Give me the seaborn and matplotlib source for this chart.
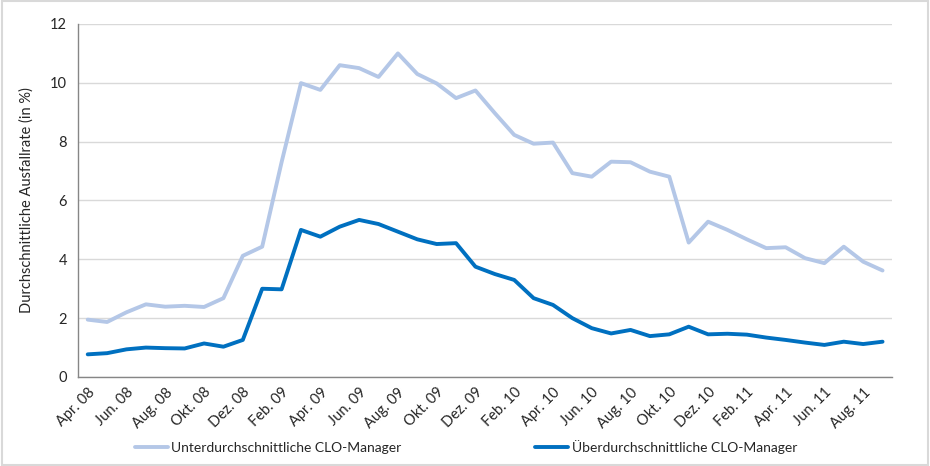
import pandas as pd
import seaborn as sns
import matplotlib.pyplot as plt
from matplotlib.ticker import FixedLocator, NullFormatter

# monthly values, Apr. 08 - Sep. 11
months = ['Apr. 08', 'Mai. 08', 'Jun. 08', 'Jul. 08', 'Aug. 08', 'Sep. 08', 'Okt. 08', 'Nov. 08',
          'Dez. 08', 'Jan. 09', 'Feb. 09', 'Mrz. 09', 'Apr. 09', 'Mai. 09', 'Jun. 09', 'Jul. 09',
          'Aug. 09', 'Sep. 09', 'Okt. 09', 'Nov. 09', 'Dez. 09', 'Jan. 10', 'Feb. 10', 'Mrz. 10',
          'Apr. 10', 'Mai. 10', 'Jun. 10', 'Jul. 10', 'Aug. 10', 'Sep. 10', 'Okt. 10', 'Nov. 10',
          'Dez. 10', 'Jan. 11', 'Feb. 11', 'Mrz. 11', 'Apr. 11', 'Mai. 11', 'Jun. 11', 'Jul. 11',
          'Aug. 11', 'Sep. 11']

unter = [1.95, 1.87, 2.2, 2.47, 2.39, 2.42, 2.38, 2.68, 4.12, 4.43, 7.3, 9.99,
         9.76, 10.6, 10.5, 10.2, 11.0, 10.3, 9.98, 9.48, 9.74, 8.97, 8.23, 7.93,
         7.97, 6.93, 6.81, 7.32, 7.3, 6.98, 6.81, 4.57, 5.28, 5.0, 4.68, 4.38,
         4.41, 4.04, 3.87, 4.43, 3.92, 3.62]

ueber = [0.77, 0.81, 0.94, 1.0, 0.98, 0.97, 1.14, 1.03, 1.26, 3.0, 2.98, 5.0,
         4.77, 5.11, 5.34, 5.2, 4.94, 4.68, 4.52, 4.55, 3.75, 3.5, 3.3, 2.68,
         2.45, 2.0, 1.66, 1.48, 1.6, 1.39, 1.45, 1.71, 1.45, 1.47, 1.44, 1.34,
         1.26, 1.17, 1.09, 1.2, 1.12, 1.2]

names = ['Unterdurchschnittliche CLO-Manager', 'Überdurchschnittliche CLO-Manager']
colors = ['#B4C7E7', '#0070C0']

df = pd.DataFrame({'idx': list(range(len(months))) * 2,
                   'wert': unter + ueber,
                   'gruppe': [names[0]] * len(months) + [names[1]] * len(months)})

sns.set_style('white')
plt.rcParams['font.family'] = ['Lato', 'DejaVu Sans']

fig = plt.figure(figsize=(9.3, 4.66), dpi=100)
ax = fig.add_axes([0.0839, 0.191, 0.8755, 0.7575])

sns.lineplot(data=df, x='idx', y='wert', hue='gruppe', palette=colors,
             linewidth=2.8, ax=ax, legend=True)
for line in ax.get_lines():
    line.set_solid_joinstyle('round')
    line.set_solid_capstyle('round')

ax.set_xlim(-0.5, len(months) - 0.5)
ax.set_ylim(0, 12)
ax.set_yticks(range(0, 13, 2))
ax.grid(axis='y', color='#D9D9D9', linewidth=1)
ax.set_axisbelow(True)

# tick marks between categories, labels on every second month
ax.xaxis.set_major_locator(FixedLocator([i - 0.5 for i in range(0, len(months) + 1, 2)]))
ax.xaxis.set_major_formatter(NullFormatter())
ax.xaxis.set_minor_locator(FixedLocator(list(range(0, len(months), 2))))
ax.set_xticklabels(months[::2], minor=True, rotation=45, ha='right',
                   rotation_mode='anchor', fontsize=10.5, color='#262626')
ax.tick_params(axis='x', which='major', length=4, width=1, color='#868686', direction='out')
ax.tick_params(axis='x', which='minor', length=0, pad=6)
ax.tick_params(axis='y', length=0, labelsize=10.5, labelcolor='#262626', pad=8)

for s in ['top', 'right']:
    ax.spines[s].set_visible(False)
for s in ['left', 'bottom']:
    ax.spines[s].set_color('#868686')
    ax.spines[s].set_linewidth(1)

ax.set_xlabel('')
ax.set_ylabel('Durchschnittliche Ausfallrate (in %)', fontsize=10.5, color='#262626', labelpad=12)

handles, labels = ax.get_legend_handles_labels()
ax.get_legend().remove()
fig.legend(handles, labels, loc='lower center', bbox_to_anchor=(0.501, 0.0), ncol=2,
           frameon=False, fontsize=10, handlelength=2.4, handletextpad=0.25,
           columnspacing=9.6, labelcolor='#262626')

# grey frame around the chart area
fig.patches.append(plt.Rectangle((0.002, 0.003), 0.996, 0.994, transform=fig.transFigure,
                                 fill=False, edgecolor='#D9D9D9', linewidth=1.5))

fig.savefig('out.png', dpi=100)
